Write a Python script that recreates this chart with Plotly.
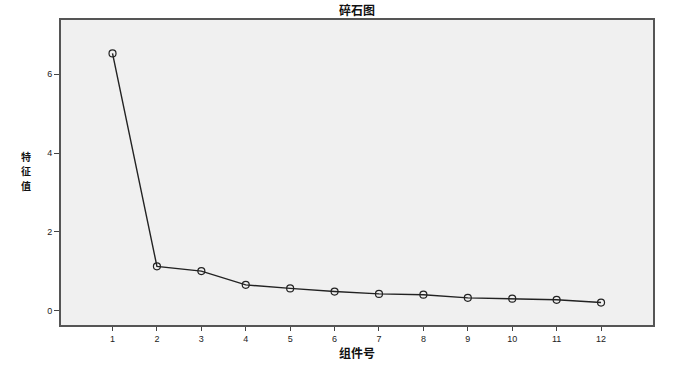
import plotly.graph_objects as go

components = [1, 2, 3, 4, 5, 6, 7, 8, 9, 10, 11, 12]
eigenvalues = [6.53, 1.12, 1.00, 0.65, 0.56, 0.48, 0.42, 0.40, 0.32, 0.30, 0.27, 0.20]
y_ticks = [0, 2, 4, 6]
y_title_chars = ["特", "征", "值"]

fig = go.Figure()
fig.add_trace(go.Scatter(
    x=components, y=eigenvalues, mode="lines+markers",
    line=dict(color="#222222", width=1.4),
    marker=dict(symbol="circle-open", size=7, color="#222222", line=dict(width=1.2)),
    showlegend=False, hoverinfo="skip",
))

annotations = [
    dict(text="<b>碎石图</b>", xref="paper", yref="paper", x=0.5, y=1,
         xanchor="center", yanchor="middle", yshift=11, showarrow=False,
         font=dict(family="Noto Sans CJK SC", size=12, color="#111111")),
    dict(text="<b>组件号</b>", xref="paper", yref="paper", x=0.5, y=0,
         xanchor="center", yanchor="middle", yshift=-27, showarrow=False,
         font=dict(family="Noto Sans CJK SC", size=12, color="#111111")),
]
for i, ch in enumerate(y_title_chars):
    annotations.append(dict(
        text="<b>" + ch + "</b>", xref="paper", yref="paper",
        x=-0.059, y=0.505, xanchor="center", yanchor="middle",
        yshift=(1 - i) * 14.5, showarrow=False,
        font=dict(family="Noto Sans CJK SC", size=10, color="#111111")))

fig.update_layout(
    width=681, height=366,
    margin=dict(l=61, r=28, t=20, b=41, autoexpand=False),
    paper_bgcolor="white",
    plot_bgcolor="#F0F0F0",
    xaxis=dict(range=[-0.16, 13.17], tickvals=components, ticks="outside", ticklen=4,
               tickcolor="#444444", showgrid=False, zeroline=False, automargin=False,
               showline=True, linecolor="#555555", linewidth=2, mirror=True,
               tickfont=dict(family="Liberation Sans", size=9, color="#222222")),
    yaxis=dict(range=[-0.37, 7.38], tickvals=y_ticks, ticks="outside", ticklen=5,
               tickcolor="#444444", showgrid=False, zeroline=False, automargin=False,
               showline=True, linecolor="#555555", linewidth=2, mirror=True,
               tickfont=dict(family="Liberation Sans", size=9, color="#222222")),
    annotations=annotations,
)

fig.write_html("out.html", config={"displayModeBar": False},
               post_script="document.body.style.margin='0';")
